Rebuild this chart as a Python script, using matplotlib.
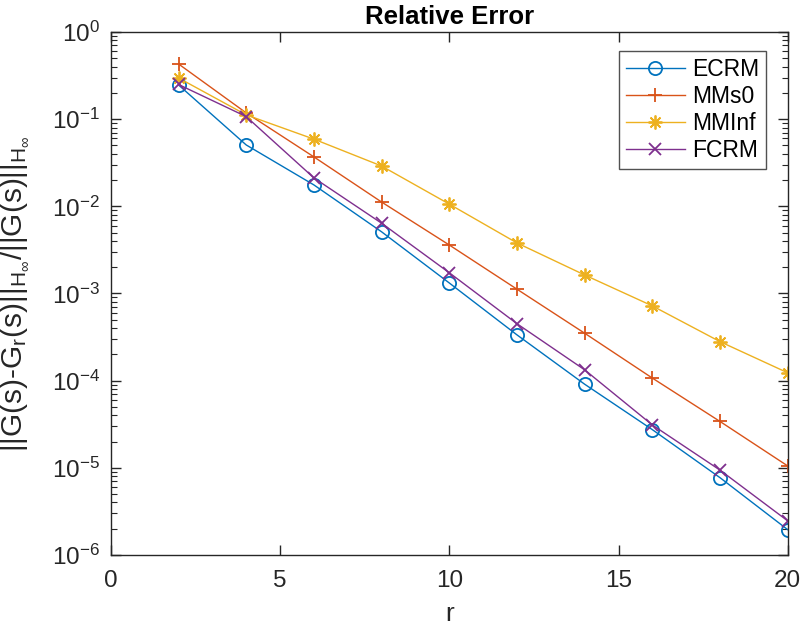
import matplotlib
matplotlib.use("Agg")
import matplotlib.pyplot as plt
import numpy as np
from matplotlib.ticker import NullFormatter, FixedLocator, LogFormatterMathtext

plt.rcParams['font.family'] = ['Liberation Sans', 'DejaVu Sans']
plt.rcParams['mathtext.fontset'] = 'custom'
plt.rcParams['mathtext.rm'] = 'Liberation Sans'
plt.rcParams['mathtext.it'] = 'Liberation Sans'
plt.rcParams['mathtext.sf'] = 'Liberation Sans'

r = [2, 4, 6, 8, 10, 12, 14, 16, 18, 20]
ecrm = [0.247, 0.0506, 0.0176, 0.0051, 0.00132, 3.35e-4, 9.1e-5, 2.74e-5, 7.7e-6, 1.95e-6]
mms0 = [0.43, 0.118, 0.0369, 0.0112, 0.0036, 0.00112, 3.5e-4, 1.07e-4, 3.4e-5, 1.05e-5]
mminf = [0.297, 0.112, 0.059, 0.029, 0.0106, 0.0038, 0.00163, 7.2e-4, 2.8e-4, 1.23e-4]
fcrm = [0.25, 0.107, 0.0212, 0.0064, 0.00173, 4.5e-4, 1.33e-4, 3.1e-5, 9.4e-6, 2.46e-6]

fig = plt.figure(figsize=(8.03, 6.36), dpi=100)
ax = fig.add_axes([0.138, 0.1274, 0.843, 0.8223])

ax.semilogy(r, ecrm, '-o', color='#0072BD', lw=1, ms=9.5, mfc='none', mew=1.3, label='ECRM')
ax.semilogy(r, mms0, '-+', color='#D95319', lw=1, ms=10, mew=1.3, label='MMs0')
ax.semilogy(r, mminf, '-', marker=(8, 2, 0), color='#EDB120', lw=1, ms=10, mew=1.3, label='MMInf')
ax.semilogy(r, fcrm, '-x', color='#7E2F8E', lw=1, ms=8, mew=1.3, label='FCRM')

ax.set_xlim(0, 20)
ax.set_ylim(1e-6, 1)
decades = 10.0 ** np.arange(-6, 1)
ax.xaxis.set_major_locator(FixedLocator([0, 5, 10, 15, 20]))
ax.yaxis.set_major_locator(FixedLocator(decades))
ax.yaxis.set_major_formatter(LogFormatterMathtext())
minor = [d * k for d in decades[:-1] for k in range(2, 10)]
ax.yaxis.set_minor_locator(FixedLocator(minor))
ax.yaxis.set_minor_formatter(NullFormatter())

ax.tick_params(which='both', direction='in', top=True, right=True, labelsize=17.5, colors='#262626')
ax.tick_params(which='major', length=7, width=1)
ax.tick_params(which='minor', length=4, width=0.8)
ax.tick_params(axis='x', pad=11)
ax.tick_params(axis='y', pad=8)
for s in ax.spines.values():
    s.set_color('#262626')
    s.set_linewidth(1)

ax.set_title('Relative Error', fontsize=18.5, fontweight='bold', pad=6)
ax.set_xlabel('r', fontsize=19, color='#262626')
ax.xaxis.set_label_coords(0.5, -0.09)
ax.set_ylabel(r'$||G(s)$-$G_r(s)||_{H_\infty}/||G(s)||_{H_\infty}$', fontsize=21.5,
              color='#262626')
ax.yaxis.set_label_coords(-0.118, 0.5)

leg = ax.legend(loc='upper right', bbox_to_anchor=(0.968, 0.963), fontsize=16.5, frameon=True,
                fancybox=False, edgecolor='#262626', handlelength=2.6, borderpad=0.3,
                labelspacing=0.17, handletextpad=0.3, borderaxespad=0)
leg.get_frame().set_linewidth(1)

fig.savefig('out.png', dpi=100)
